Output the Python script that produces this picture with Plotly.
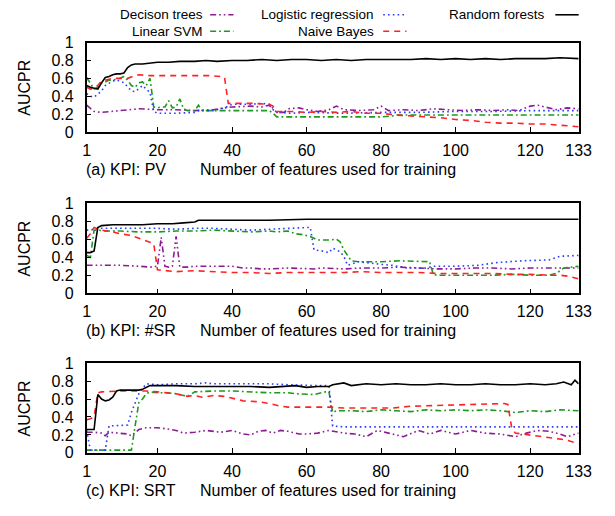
import plotly.graph_objects as go

W, H = 615, 516
FONT = "Liberation Sans, Arial, Helvetica, sans-serif"

models = ["Decison trees", "Linear SVM", "Logistic regression", "Naive Bayes", "Random forests"]
colors = ["#8e1a96", "#1c9a1c", "#2b3bff", "#ff2222", "#000000"]
dashes = ["6px,3px,1.6px,3px,1.6px,3px", "6px,3px,1.8px,3px", "1.6px,3.2px", "6px,5px", "solid"]

x_ticks = [1, 20, 40, 60, 80, 100, 120, 133]
y_ticks = [0, 0.2, 0.4, 0.6, 0.8, 1]
y_tick_labels = ["0", "0.2", "0.4", "0.6", "0.8", "1"]
panel_captions = ["(a) KPI: PV", "(b) KPI: #SR", "(c) KPI: SRT"]
x_title = "Number of features used for training"
y_title = "AUCPR"

# ---------------- Panel (a) KPI: PV ----------------
dt_a_x = [1,2,3,5,8,12,15,20,25,30,35,38,40,45,48,50,51,52,54,55,58,60,63,66,68,70,74,78,80,82,86,90,94,98,102,106,110,114,117,120,122,124,127,130,133]
dt_a_y = [0.30,0.27,0.23,0.22,0.23,0.25,0.26,0.25,0.25,0.24,0.25,0.27,0.28,0.29,0.28,0.30,0.25,0.22,0.22,0.26,0.27,0.25,0.23,0.25,0.29,0.25,0.24,0.25,0.29,0.24,0.25,0.24,0.26,0.25,0.24,0.25,0.24,0.25,0.24,0.29,0.30,0.28,0.25,0.27,0.26]
svm_a_x = [1,2,3,4,5,6,7,8,9,10,11,12,13,14,15,16,17,18,19,20,21,22,23,24,25,26,27,28,29,30,31,32,33,35,40,45,50,51,52,56,60,65,70,75,80,83,84,90,100,110,120,130,133]
svm_a_y = [0.61,0.55,0.48,0.50,0.55,0.56,0.58,0.58,0.59,0.60,0.62,0.58,0.52,0.50,0.55,0.56,0.52,0.60,0.28,0.27,0.28,0.28,0.35,0.27,0.28,0.37,0.26,0.24,0.24,0.24,0.30,0.24,0.24,0.24,0.24,0.24,0.24,0.21,0.17,0.17,0.17,0.17,0.17,0.17,0.17,0.18,0.19,0.19,0.19,0.19,0.19,0.19,0.19]
lr_a_x = [1,2,3,4,5,6,7,8,9,10,11,12,13,14,15,16,17,18,19,20,25,30,31,35,38,40,45,48,50,51,52,56,60,70,80,90,100,110,120,130,133]
lr_a_y = [0.43,0.40,0.39,0.42,0.46,0.52,0.55,0.57,0.58,0.57,0.55,0.50,0.46,0.45,0.49,0.52,0.48,0.44,0.23,0.21,0.21,0.22,0.24,0.24,0.27,0.31,0.31,0.32,0.31,0.26,0.22,0.21,0.22,0.21,0.22,0.22,0.23,0.23,0.24,0.24,0.24]
nb_a_x = [1,2,3,4,5,6,8,10,12,14,15,18,22,26,30,34,37,38,39,42,46,50,51,52,56,60,64,68,72,76,80,84,88,92,96,100,104,108,112,116,120,124,128,131,133]
nb_a_y = [0.50,0.48,0.49,0.52,0.57,0.58,0.60,0.60,0.60,0.63,0.64,0.63,0.63,0.63,0.63,0.63,0.62,0.61,0.32,0.32,0.32,0.31,0.29,0.23,0.23,0.22,0.23,0.22,0.23,0.21,0.21,0.19,0.18,0.17,0.16,0.14,0.13,0.11,0.10,0.10,0.09,0.09,0.08,0.07,0.06]
rf_a_x = [1,2,3,4,5,6,7,8,9,10,11,12,13,14,16,18,20,23,26,30,33,36,40,44,48,52,56,60,64,68,72,76,80,84,88,92,96,100,104,108,112,116,120,124,128,131,133]
rf_a_y = [0.52,0.50,0.49,0.48,0.55,0.61,0.62,0.64,0.65,0.65,0.66,0.72,0.75,0.76,0.76,0.77,0.78,0.78,0.79,0.79,0.80,0.79,0.80,0.80,0.81,0.80,0.81,0.81,0.80,0.81,0.80,0.81,0.81,0.81,0.81,0.82,0.81,0.82,0.81,0.82,0.81,0.82,0.82,0.82,0.83,0.82,0.82]

# ---------------- Panel (b) KPI: #SR ----------------
dt_b_x = [1,5,10,15,18,20,21,22,23,24,25,26,28,30,35,40,43,45,48,50,55,60,62,64,70,75,80,85,90,95,100,105,110,115,120,125,130,133]
dt_b_y = [0.31,0.31,0.31,0.30,0.29,0.30,0.62,0.30,0.29,0.30,0.63,0.29,0.29,0.30,0.30,0.30,0.28,0.28,0.27,0.27,0.28,0.27,0.27,0.28,0.27,0.28,0.28,0.29,0.28,0.27,0.27,0.28,0.28,0.27,0.28,0.28,0.28,0.28]
svm_b_x = [1,2,3,4,6,10,15,20,25,30,35,40,45,50,52,55,57,59,61,63,66,68,69,70,72,74,80,85,90,93,94,95,100,105,110,115,120,125,127,129,131,133]
svm_b_y = [0.42,0.40,0.70,0.70,0.69,0.69,0.68,0.68,0.69,0.69,0.70,0.69,0.68,0.69,0.68,0.69,0.66,0.65,0.63,0.59,0.59,0.60,0.57,0.48,0.36,0.35,0.35,0.36,0.35,0.35,0.21,0.20,0.20,0.20,0.20,0.21,0.20,0.20,0.22,0.28,0.29,0.30]
lr_b_x = [1,2,3,5,10,15,20,25,30,35,40,45,50,55,58,61,62,64,66,67,69,70,71,74,80,83,87,92,94,100,106,111,118,125,128,132,133]
lr_b_y = [0.70,0.70,0.71,0.72,0.72,0.72,0.72,0.71,0.72,0.72,0.71,0.70,0.71,0.72,0.73,0.73,0.48,0.47,0.45,0.50,0.46,0.41,0.31,0.35,0.32,0.31,0.28,0.28,0.30,0.30,0.31,0.34,0.36,0.37,0.41,0.42,0.42]
nb_b_x = [1,2,3,5,8,10,13,15,18,19,20,22,25,30,35,40,45,50,55,60,65,70,75,80,85,90,95,100,105,110,115,120,125,128,130,133]
nb_b_y = [0.61,0.66,0.73,0.70,0.68,0.66,0.64,0.61,0.57,0.55,0.26,0.25,0.24,0.25,0.24,0.23,0.23,0.22,0.23,0.23,0.23,0.23,0.24,0.23,0.23,0.23,0.22,0.22,0.22,0.22,0.21,0.21,0.20,0.20,0.19,0.16]
rf_b_x = [1,2,3,4,5,8,12,16,20,24,27,30,31,35,40,50,60,70,80,90,100,110,120,130,133]
rf_b_y = [0.45,0.45,0.47,0.73,0.75,0.76,0.76,0.76,0.77,0.77,0.78,0.79,0.81,0.81,0.81,0.81,0.82,0.82,0.82,0.82,0.82,0.82,0.82,0.82,0.82]

# ---------------- Panel (c) KPI: SRT ----------------
dt_c_x = [1,3,5,6,7,10,12,13,15,17,20,22,25,27,30,33,35,37,40,43,45,47,49,51,53,55,58,60,63,66,70,73,76,79,82,86,90,93,96,100,104,108,112,116,119,122,125,128,130,133]
dt_c_y = [0.23,0.23,0.22,0.19,0.23,0.22,0.21,0.19,0.26,0.28,0.28,0.27,0.25,0.22,0.23,0.25,0.24,0.23,0.25,0.21,0.20,0.24,0.25,0.22,0.25,0.24,0.21,0.21,0.22,0.25,0.22,0.21,0.18,0.25,0.22,0.18,0.25,0.21,0.25,0.21,0.25,0.22,0.21,0.18,0.22,0.25,0.24,0.21,0.18,0.22]
svm_c_x = [1,5,10,13,14,15,16,17,18,20,22,25,27,28,30,35,40,45,50,55,57,62,65,66,67,68,72,76,80,84,88,92,96,100,104,108,112,116,120,124,128,133]
svm_c_y = [0.03,0.03,0.03,0.03,0.30,0.56,0.60,0.66,0.68,0.67,0.67,0.66,0.64,0.63,0.68,0.69,0.69,0.68,0.67,0.67,0.66,0.65,0.68,0.68,0.45,0.47,0.47,0.46,0.48,0.47,0.46,0.48,0.47,0.48,0.47,0.48,0.47,0.45,0.47,0.46,0.48,0.47]
lr_c_x = [1,2,3,6,7,10,12,13,14,15,16,17,20,25,30,33,35,40,45,50,55,60,63,66,67,70,80,90,100,110,120,130,133]
lr_c_y = [0.25,0.03,0.03,0.03,0.30,0.31,0.31,0.45,0.55,0.66,0.72,0.77,0.76,0.77,0.77,0.78,0.77,0.77,0.77,0.77,0.76,0.75,0.75,0.75,0.30,0.29,0.29,0.29,0.29,0.29,0.29,0.29,0.29]
nb_c_x = [1,2,3,4,5,8,10,15,17,20,22,25,28,30,32,35,38,40,43,47,50,53,55,60,66,70,76,83,88,96,105,110,113,114,115,116,120,123,127,130,133]
nb_c_y = [0.37,0.38,0.40,0.67,0.68,0.69,0.69,0.69,0.69,0.68,0.67,0.66,0.63,0.64,0.62,0.64,0.63,0.61,0.58,0.57,0.55,0.52,0.51,0.51,0.51,0.50,0.50,0.50,0.52,0.53,0.54,0.55,0.55,0.54,0.29,0.22,0.20,0.18,0.16,0.14,0.10]
rf_c_x = [1,2,3,4,5,6,7,8,9,10,12,15,16,17,18,20,25,30,35,40,45,50,55,57,60,63,66,67,70,72,76,80,84,88,92,96,100,104,108,112,116,120,124,127,129,131,132,133]
rf_c_y = [0.26,0.26,0.26,0.65,0.60,0.58,0.59,0.62,0.69,0.70,0.70,0.70,0.71,0.73,0.75,0.75,0.75,0.74,0.74,0.74,0.74,0.73,0.74,0.75,0.73,0.74,0.74,0.76,0.78,0.75,0.77,0.76,0.77,0.76,0.76,0.77,0.76,0.76,0.77,0.76,0.76,0.77,0.76,0.77,0.79,0.76,0.81,0.77]

panels = [
    [(dt_a_x, dt_a_y), (svm_a_x, svm_a_y), (lr_a_x, lr_a_y), (nb_a_x, nb_a_y), (rf_a_x, rf_a_y)],
    [(dt_b_x, dt_b_y), (svm_b_x, svm_b_y), (lr_b_x, lr_b_y), (nb_b_x, nb_b_y), (rf_b_x, rf_b_y)],
    [(dt_c_x, dt_c_y), (svm_c_x, svm_c_y), (lr_c_x, lr_c_y), (nb_c_x, nb_c_y), (rf_c_x, rf_c_y)],
]

# ---------------- layout geometry (pixels) ----------------
def fx(p):
    return p / W

def fy(p):
    return 1 - p / H

plot_left, plot_right = 85, 591
panel_px = [(35.7, 128.3), (201.7, 295.0), (367.3, 460.0)]  # (top, bottom)

fig = go.Figure()
for i, series in enumerate(panels):
    ax = "" if i == 0 else str(i + 1)
    for m, (xs, ys) in enumerate(series):
        fig.add_trace(go.Scatter(
            x=xs, y=ys, mode="lines", name=models[m], showlegend=False,
            line=dict(color=colors[m], width=1.6, dash=dashes[m]),
            xaxis="x" + ax, yaxis="y" + ax,
        ))

axis_font = dict(family=FONT, size=16, color="black")
layout = dict(
    width=W, height=H, margin=dict(l=0, r=0, t=0, b=0),
    paper_bgcolor="white", plot_bgcolor="white", showlegend=False,
    font=dict(family=FONT, size=16, color="black"),
)
annotations = []
shapes = []
for i, (top, bot) in enumerate(panel_px):
    sfx = "" if i == 0 else str(i + 1)
    layout["xaxis" + sfx] = dict(
        domain=[fx(plot_left), fx(plot_right)], range=[1, 133],
        anchor="y" + sfx, tickvals=x_ticks, ticktext=[str(t) for t in x_ticks],
        ticks="inside", ticklen=5, tickwidth=1, tickcolor="black",
        showline=True, linecolor="black", linewidth=1.5, mirror=True,
        showgrid=False, zeroline=False, tickfont=axis_font, ticklabelstandoff=3,
    )
    layout["yaxis" + sfx] = dict(
        domain=[fy(bot), fy(top)], range=[0, 1],
        anchor="x" + sfx, tickvals=y_ticks, ticktext=y_tick_labels,
        ticks="inside", ticklen=5, tickwidth=1, tickcolor="black",
        showline=True, linecolor="black", linewidth=1.5, mirror=True,
        showgrid=False, zeroline=False, tickfont=axis_font, ticklabelstandoff=8,
    )
    cap_y = fy(bot + 39)
    annotations.append(dict(text=panel_captions[i], x=fx(82), y=cap_y, xref="paper", yref="paper",
                            xanchor="left", yanchor="middle", showarrow=False, font=axis_font))
    annotations.append(dict(text=x_title, x=fx(200), y=cap_y, xref="paper", yref="paper",
                            xanchor="left", yanchor="middle", showarrow=False, font=axis_font))
    annotations.append(dict(text=y_title, x=fx(21), y=fy((top + bot) / 2), xref="paper", yref="paper",
                            xanchor="center", yanchor="middle", textangle=-90, showarrow=False, font=axis_font))

# gnuplot-style key: text right-aligned, sample to its right
key_cols = [(206, 212, 236), (382, 390, 414), (557, 567, 591)]
key_rows = [7, 24]
key_slots = [(0, 0), (1, 0), (0, 1), (1, 1), (0, 2)]  # (row, col) per model
legend_font = dict(family=FONT, size=13.5, color="black")
for m, (r, c) in enumerate(key_slots):
    tx, s0, s1 = key_cols[c]
    yy = fy(key_rows[r])
    annotations.append(dict(text=models[m], x=fx(tx), y=yy, xref="paper", yref="paper",
                            xanchor="right", yanchor="middle", showarrow=False, font=legend_font,
                            borderpad=0))
    shapes.append(dict(type="line", xref="paper", yref="paper", x0=fx(s0), x1=fx(s1), y0=yy, y1=yy,
                       line=dict(color=colors[m], width=1.6, dash=dashes[m])))

layout["annotations"] = annotations
layout["shapes"] = shapes
fig.update_layout(**layout)
fig.write_html("out.html")
